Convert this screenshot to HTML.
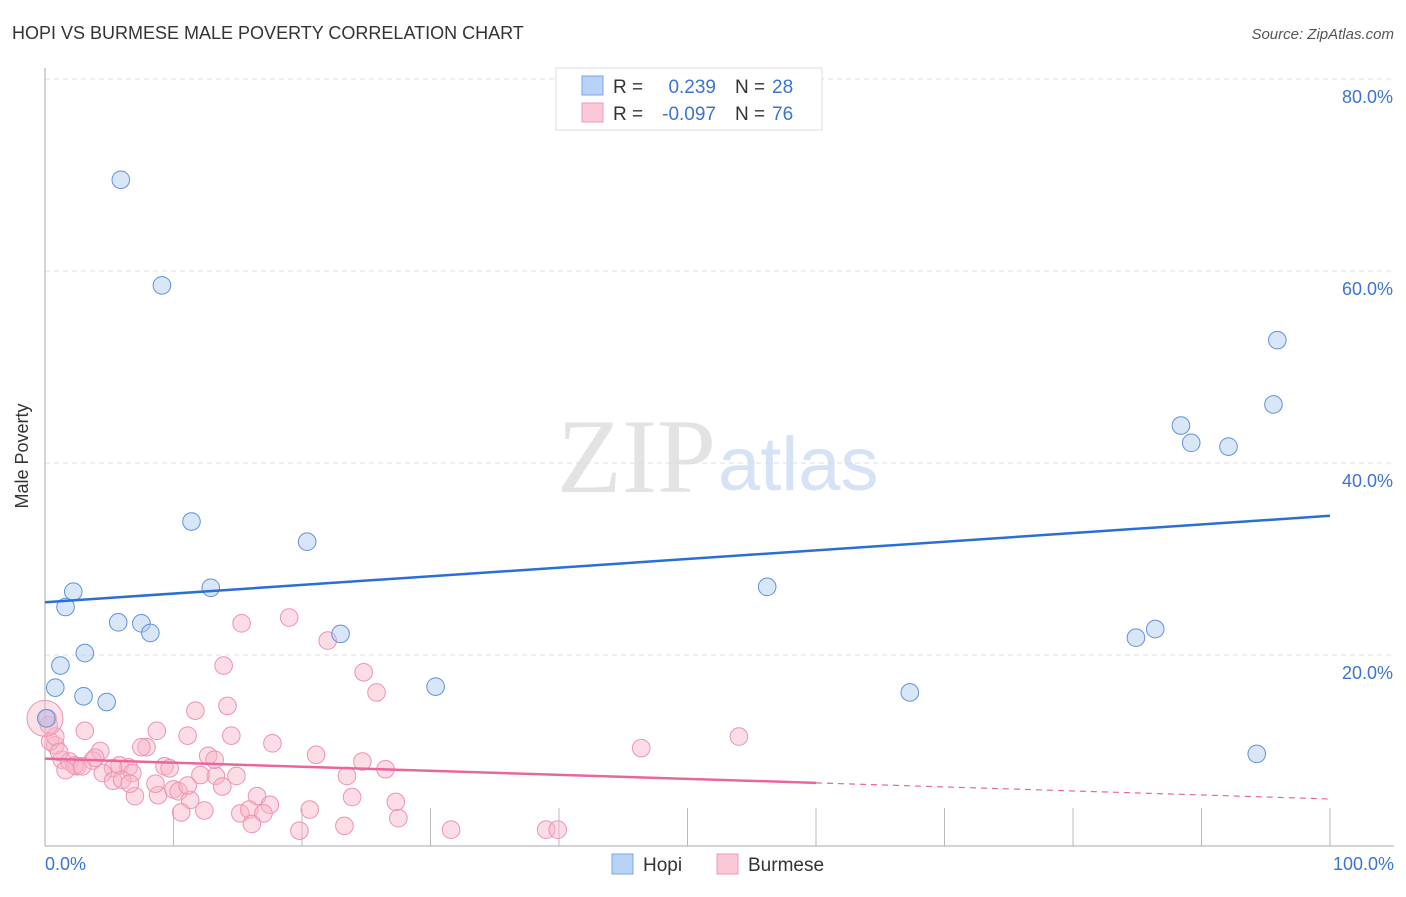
<!DOCTYPE html>
<html><head><meta charset="utf-8"><style>
body{margin:0;background:#fff;font-family:"Liberation Sans",sans-serif;}
svg text{font-family:"Liberation Sans",sans-serif;}
</style></head><body>
<svg id="chart" width="1406" height="892" xmlns="http://www.w3.org/2000/svg">
<text x="12" y="39" font-size="18" fill="#333">HOPI VS BURMESE MALE POVERTY CORRELATION CHART</text>
<text x="1394" y="39" font-size="15" fill="#555" font-style="italic" text-anchor="end">Source: ZipAtlas.com</text>
<text x="716" y="492" font-size="106" fill="#e3e3e3" text-anchor="end" font-family="Liberation Serif" style="font-family:'Liberation Serif',serif">ZIP</text>
<text x="718" y="490" font-size="76" fill="#d6e2f5">atlas</text>
<g id="grid"></g>
<line x1="45" y1="68" x2="45" y2="846" stroke="#aaa"/>
<line x1="45" y1="846" x2="1394" y2="846" stroke="#aaa"/>
<text x="28" y="456" font-size="18" fill="#333" text-anchor="middle" transform="rotate(-90 28 456)">Male Poverty</text>
<text x="45" y="870" font-size="18" fill="#3b73d6">0.0%</text>
<text x="1394" y="870" font-size="18" fill="#3b73d6" text-anchor="end">100.0%</text>
<g id="ylabels"></g>
<g id="pts"></g>
<g id="lines"></g>
<g>
<rect x="556" y="68" width="266" height="62" fill="#fff" stroke="#ddd"/>
<rect x="582" y="76" width="21" height="19" fill="#b9d3f7" stroke="#7aa6e8"/>
<rect x="582" y="103" width="21" height="19" fill="#fbc8d8" stroke="#ef9ab6"/>
<text x="613" y="93" font-size="19" fill="#333">R =</text>
<text x="716" y="93" font-size="19" fill="#3b73d6" text-anchor="end">0.239</text>
<text x="735" y="93" font-size="19" fill="#333">N =</text>
<text x="772" y="93" font-size="19" fill="#3b73d6">28</text>
<text x="613" y="120" font-size="19" fill="#333">R =</text>
<text x="716" y="120" font-size="19" fill="#3b73d6" text-anchor="end">-0.097</text>
<text x="735" y="120" font-size="19" fill="#333">N =</text>
<text x="772" y="120" font-size="19" fill="#3b73d6">76</text>
</g>
<g>
<rect x="612" y="854" width="21" height="20" fill="#b9d3f7" stroke="#7aa6e8"/>
<text x="643" y="871" font-size="19" fill="#333">Hopi</text>
<rect x="717" y="854" width="21" height="20" fill="#fbc8d8" stroke="#ef9ab6"/>
<text x="748" y="871" font-size="19" fill="#333">Burmese</text>
</g>
</svg>
<script>
const yTicks=[20,40,60,80];
const yTickLabels=["20.0%","40.0%","60.0%","80.0%"];
const hopiX=[5.9,9.1,11.4,20.4,2.2,12.9,1.6,5.7,7.5,8.2,23.0,3.1,1.2,0.8,3.0,4.8,30.4,56.2,67.3,84.9,86.4,88.4,89.2,92.1,95.9,95.6,94.3,0.1];
const hopiY=[69.5,58.5,33.9,31.8,26.6,27.0,25.0,23.4,23.3,22.3,22.2,20.2,18.9,16.6,15.7,15.1,16.7,27.1,16.1,21.8,22.7,43.9,42.1,41.7,52.8,46.1,9.7,13.4];
const burPx=[[289,618],[242,623],[328,641],[224,666],[364,672],[376,692],[195,711],[228,706],[85,731],[157,731],[187,736],[231,736],[272,743],[641,748],[739,737],[147,747],[141,747],[100,751],[208,756],[316,755],[362,762],[385,769],[62,760],[70,762],[77,766],[93,761],[120,765],[128,767],[164,766],[170,768],[113,768],[216,776],[200,775],[237,776],[347,776],[103,773],[55,745],[50,741],[55,737],[59,752],[75,765],[82,766],[132,773],[113,781],[122,780],[135,796],[158,795],[173,789],[178,791],[190,800],[155,784],[222,787],[257,796],[270,805],[240,813],[249,810],[263,813],[252,824],[181,812],[204,811],[310,810],[352,797],[396,802],[398,818],[345,826],[299,831],[451,830],[546,830],[558,830],[47,718],[130,784],[95,758],[49,725],[65,770],[215,760],[188,786]];
const burX=burPx.map(p=>+((p[0]-45)/12.85).toFixed(1));
const burY=burPx.map(p=>+((847-p[1])/9.6).toFixed(1));
const hopiLine=[25.5,34.5];
const burLine=[9.2,5.0];
const xs=v=>45+v*12.85, ys=v=>847-v*9.6;
const NS="http://www.w3.org/2000/svg";
function mk(t,a,p){const e=document.createElementNS(NS,t);for(const k in a)e.setAttribute(k,a[k]);p.appendChild(e);return e;}
const grid=document.getElementById('grid'),yl=document.getElementById('ylabels');
yTicks.forEach((t,i)=>{
 const l=mk('line',{x1:45,x2:1394,y1:ys(t),y2:ys(t),stroke:'#ddd','stroke-dasharray':'5,4'},grid);
 
 
 const tx=mk('text',{x:1393,y:ys(t)+24,'font-size':18,fill:'#3b73d6','text-anchor':'end'},yl);
 tx.textContent=yTickLabels[i];
 
 
});
for(let i=1;i<=10;i++){const l=mk('line',{x1:xs(i*10),x2:xs(i*10),y1:808,y2:846,stroke:'#bbb'},grid);
 
 }
const pts=document.getElementById('pts');
burX.forEach((x,i)=>{const c=mk('circle',{cx:xs(x),cy:ys(burY[i]),r:8.8,fill:'rgba(248,180,200,0.45)',stroke:'#ee92b0','stroke-width':1},pts);
 
 });
const big=mk('circle',{cx:xs(0),cy:ys(13.4),r:18,fill:'rgba(248,180,200,0.4)',stroke:'#ee92b0'},pts);


hopiX.forEach((x,i)=>{const c=mk('circle',{cx:xs(x),cy:ys(hopiY[i]),r:8.8,fill:'rgba(170,200,240,0.45)',stroke:'#5d93df','stroke-width':1},pts);
 
 });
const lg=document.getElementById('lines');
const h=mk('line',{x1:xs(0),y1:ys(hopiLine[0]),x2:xs(100),y2:ys(hopiLine[1]),stroke:'#2a6fd6','stroke-width':2.5},lg);


const bm=burLine[0]+(burLine[1]-burLine[0])*0.6;
const b1=mk('line',{x1:xs(0),y1:ys(burLine[0]),x2:xs(60),y2:ys(bm),stroke:'#e8679a','stroke-width':2.5},lg);


const b2=mk('line',{x1:xs(60),y1:ys(bm),x2:xs(100),y2:ys(burLine[1]),stroke:'#e8679a','stroke-width':1.2,'stroke-dasharray':'6,5'},lg);


</script>
</body></html>
